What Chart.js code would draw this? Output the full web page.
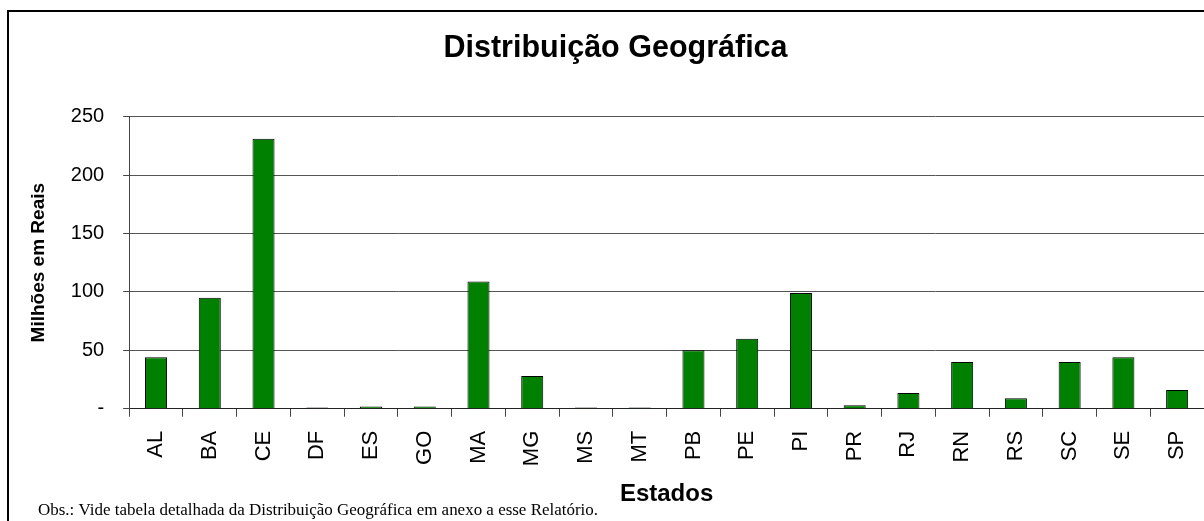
<!DOCTYPE html>
<html>
<head>
<meta charset="utf-8">
<script src="https://cdn.jsdelivr.net/npm/chart.js@4/dist/chart.umd.min.js"></script>
<style>
  html, body { margin: 0; padding: 0; background: #fff; overflow: hidden; }
  #wrap { width: 1204px; height: 521px; }
</style>
</head>
<body>
<div id="wrap"><canvas id="chart" width="1204" height="521"></canvas></div>
<script>
// values (milhões de reais)
const estados = ['AL', 'BA', 'CE', 'DF', 'ES', 'GO', 'MA', 'MG', 'MS', 'MT',
                 'PB', 'PE', 'PI', 'PR', 'RJ', 'RN', 'RS', 'SC', 'SE', 'SP'];
const valores = [44, 95, 231, 1, 2, 2, 109, 28, 1, 1,
                 50, 60, 99, 3, 13.5, 40, 9, 40, 44, 16];
const yTicks = [0, 50, 100, 150, 200, 250];

const tituloGrafico = 'Distribuição Geográfica';
const tituloY = 'Milhões em Reais';
const tituloX = 'Estados';
const nota = 'Obs.: Vide tabela detalhada da Distribuição Geográfica em anexo a esse Relatório.';

const sans = '"Liberation Sans", Arial, sans-serif';

// white background + outer frame + footnote
const framePlugin = {
    id: 'frame',
    beforeDraw(chart) {
        const c = chart.ctx;
        c.save();
        c.fillStyle = '#fff';
        c.fillRect(0, 0, chart.width, chart.height);
        c.strokeStyle = '#000';
        c.lineWidth = 2;
        c.strokeRect(8, 11, 1400, 700);
        c.restore();
    },
    afterDraw(chart) {
        const c = chart.ctx;
        c.save();
        c.font = '16px "Liberation Serif", "Times New Roman", serif';
        c.fillStyle = '#000';
        c.textBaseline = 'alphabetic';
        const w = c.measureText(nota).width;
        c.translate(38, 515);
        c.scale(560 / w, 1);
        c.fillText(nota, 0, 0);
        c.restore();
    }
};

new Chart(document.getElementById('chart'), {
    type: 'bar',
    data: {
        labels: estados,
        datasets: [{
            data: valores,
            backgroundColor: '#008000',
            borderColor: '#000',
            borderWidth: 1,
            barPercentage: 0.41,
            categoryPercentage: 1
        }]
    },
    options: {
        responsive: false,
        animation: false,
        layout: { padding: { left: 27, right: 0, top: 0, bottom: 0 } },
        plugins: {
            legend: { display: false },
            tooltip: { enabled: false },
            title: {
                display: true,
                text: tituloGrafico,
                color: '#000',
                font: { family: sans, size: 30.5, weight: 'bold' },
                padding: { top: 30, bottom: 50 }
            }
        },
        scales: {
            x: {
                offset: true,
                // plot runs right up to the cropped right edge
                afterFit(scale) {
                    scale.paddingRight = 0;
                },
                grid: {
                    display: true,
                    drawOnChartArea: false,
                    offset: true,
                    tickLength: 8,
                    tickColor: '#444'
                },
                border: { display: true, color: '#222', width: 1 },
                ticks: {
                    color: '#000',
                    font: { family: sans, size: 22 },
                    minRotation: 90,
                    maxRotation: 90,
                    padding: 14,
                    autoSkip: false
                },
                title: {
                    display: true,
                    text: tituloX,
                    color: '#000',
                    font: { family: sans, size: 24, weight: 'bold' },
                    padding: { top: 0, bottom: 12 }
                }
            },
            y: {
                min: 0,
                max: 250,
                afterBuildTicks(scale) {
                    scale.ticks = yTicks.map(v => ({ value: v }));
                },
                grid: {
                    color: '#555',
                    lineWidth: 1,
                    tickLength: 6,
                    tickColor: '#444'
                },
                border: { display: true, color: '#444', width: 1 },
                ticks: {
                    color: '#000',
                    font: { family: sans, size: 20 },
                    padding: 19,
                    callback: v => (v === 0 ? '-' : v)
                },
                title: {
                    display: true,
                    text: tituloY,
                    color: '#000',
                    font: { family: sans, size: 19, weight: 'bold' },
                    padding: { top: 0, bottom: 2 }
                }
            }
        }
    },
    plugins: [framePlugin]
});
</script>
</body>
</html>
